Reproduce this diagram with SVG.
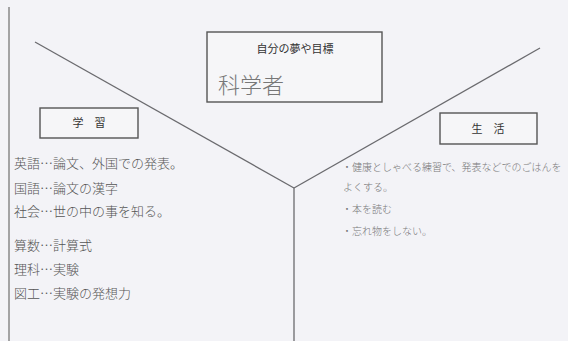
<svg xmlns="http://www.w3.org/2000/svg" width="568" height="341" viewBox="0 0 568 341">
<style>
.bg{fill:#f3f3f7}
.ln{stroke:#6a6a6e;stroke-width:1.3;fill:none}
.box{fill:#f6f6f8;stroke:#555;stroke-width:1.4}
.lbl{font-family:"Noto Sans CJK JP","Noto Sans",sans-serif;font-size:11px;fill:#333;text-anchor:middle}
.hw{font-family:"Noto Sans CJK JP","Noto Sans",sans-serif;font-size:13px;fill:#555;font-weight:300}
.hwr{font-family:"Noto Sans CJK JP","Noto Sans",sans-serif;font-size:10px;fill:#777;font-weight:300}
</style>
<rect class="bg" x="0" y="0" width="568" height="341"/>
<line x1="9" y1="7" x2="9" y2="341" stroke="#888" stroke-width="1.5"/>
<g id="connectors">
<line class="ln" x1="35" y1="42" x2="294" y2="188"/>
<line class="ln" x1="540" y1="48" x2="294" y2="188"/>
<line class="ln" x1="294" y1="188" x2="294" y2="341" stroke-width="1.8"/>
</g>
<g id="goal">
<rect class="box" x="207" y="32" width="175" height="70"/>
<text class="lbl" x="295" y="53">自分の夢や目標</text>
<text x="218" y="93" font-family="'Noto Sans CJK JP',sans-serif" font-size="22" fill="#777" font-weight="300">科学者</text>
</g>
<g id="study">
<rect class="box" x="40" y="108" width="98" height="30"/>
<text class="lbl" x="89" y="127">学　習</text>
</g>
<g id="life">
<rect class="box" x="440" y="113" width="97" height="31"/>
<text class="lbl" x="488" y="133" fill="#555">生　活</text>
</g>
<g id="study-items">
<text class="hw" x="14" y="168">英語…論文、外国での発表。</text>
<text class="hw" x="14" y="193">国語…論文の漢字</text>
<text class="hw" x="14" y="216">社会…世の中の事を知る。</text>
<text class="hw" x="14" y="250">算数…計算式</text>
<text class="hw" x="14" y="274">理科…実験</text>
<text class="hw" x="14" y="298">図工…実験の発想力</text>
</g>
<g id="life-items">
<text class="hwr" x="342" y="171" font-size="9.6">・健康としゃべる練習で、発表などでのごはんを</text>
<text class="hwr" x="343" y="191">よくする。</text>
<text class="hwr" x="342" y="213">・本を読む</text>
<text class="hwr" x="342" y="235">・忘れ物をしない。</text>
</g>
</svg>
